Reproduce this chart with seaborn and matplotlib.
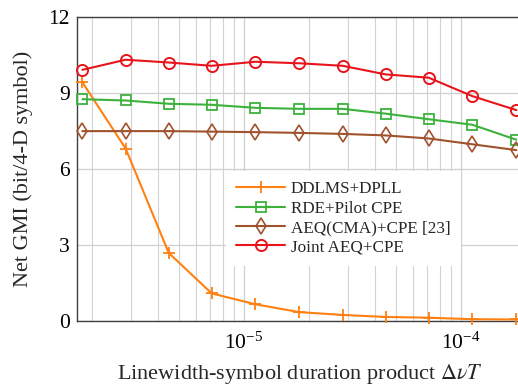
import numpy as np
import pandas as pd
import matplotlib
matplotlib.use("Agg")
import matplotlib.pyplot as plt
import seaborn as sns

# data
x_vals = [1.8e-6, 2.85e-6, 4.5e-6, 7.1e-6, 1.13e-5, 1.8e-5, 2.85e-5, 4.5e-5, 7.1e-5, 1.13e-4, 1.8e-4]
ddlms = [9.43, 6.81, 2.69, 1.09, 0.66, 0.35, 0.24, 0.16, 0.13, 0.07, 0.06]
rde = [8.76, 8.71, 8.58, 8.54, 8.42, 8.38, 8.38, 8.19, 7.97, 7.75, 7.16]
aeq = [7.50, 7.50, 7.50, 7.48, 7.46, 7.43, 7.39, 7.33, 7.21, 6.98, 6.75]
joint = [9.92, 10.32, 10.21, 10.08, 10.24, 10.18, 10.08, 9.74, 9.61, 8.88, 8.33]
labels = ["DDLMS+DPLL", "RDE+Pilot CPE", "AEQ(CMA)+CPE [23]", "Joint AEQ+CPE"]
y_ticks = [0, 3, 6, 9, 12]

sns.set_theme(style="white")
plt.rcParams["font.family"] = ["Liberation Serif", "DejaVu Serif"]
plt.rcParams["mathtext.fontset"] = "stix"

fig = plt.figure(figsize=(5.18, 3.89), dpi=100)
ax = fig.add_axes([0.1486, 0.1748, 0.86, 0.781])

styles = [
    dict(color="#ff8010", marker="+", markersize=9, markeredgewidth=1.3, markerfacecolor="none"),
    dict(color="#3cb23c", marker="s", markersize=7.5, markeredgewidth=1.3, markerfacecolor="none"),
    dict(color="#a0522d", marker="d", markersize=8, markeredgewidth=1.2, markerfacecolor="none"),
    dict(color="#e8141c", marker="o", markersize=8, markeredgewidth=1.4, markerfacecolor="none"),
]
for lab, ys, st in zip(labels, [ddlms, rde, aeq, joint], styles):
    df = pd.DataFrame({"x": x_vals, "y": ys})
    sns.lineplot(data=df, x="x", y="y", ax=ax, label=lab, linewidth=1.5,
                 markeredgecolor=st["color"], clip_on=False, zorder=3, **st)

ax.set_xscale("log")
ax.set_xlim(1.70e-6, 1.92e-4)
ax.set_ylim(0, 12)
ax.set_yticks(y_ticks)
ax.set_yticklabels([str(v) for v in y_ticks])

ax.grid(True, which="major", color="#cfcfcf", linewidth=0.9)
ax.grid(True, which="minor", axis="x", color="#d2d2d2", linewidth=0.8)
ax.set_axisbelow(True)
for s in ["left", "bottom", "top"]:
    ax.spines[s].set_color("#404040")
    ax.spines[s].set_linewidth(1.0)
ax.spines["right"].set_visible(False)
ax.tick_params(axis="both", which="both", direction="in", labelsize=15.5, colors="#404040",
               labelcolor="black", length=0)
ax.tick_params(axis="x", pad=8)
ax.tick_params(axis="y", pad=5)

ax.set_xlabel(r"Linewidth-symbol duration product $\Delta\nu T$", fontsize=16, labelpad=6)
ax.set_ylabel("Net GMI (bit/4-D symbol)", fontsize=16, labelpad=11)

leg = ax.legend(loc="upper left", bbox_to_anchor=(0.3345, 0.494), fontsize=12.3,
                frameon=True, framealpha=1.0, edgecolor="none", facecolor="white",
                handlelength=2.85, borderpad=0.6, labelspacing=0.2, handletextpad=0.35,
                borderaxespad=0)
leg.get_frame().set_boxstyle("square", pad=0)

fig.savefig("out.png", dpi=100)
